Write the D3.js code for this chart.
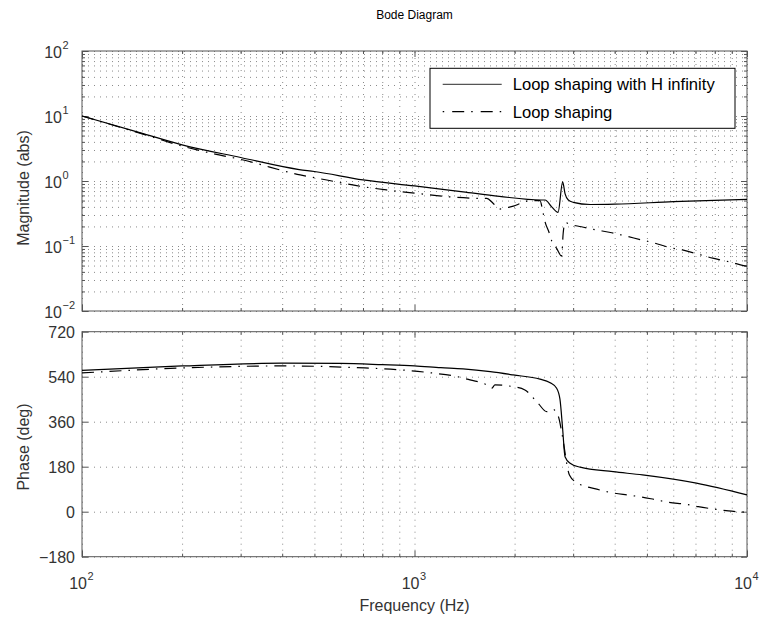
<!DOCTYPE html>
<html>
<head>
<meta charset="utf-8">
<script src="https://cdn.jsdelivr.net/npm/d3@7"></script>
<style>
    body { margin: 0; background: #fff; }
    text { font-family: "Liberation Sans", Arial, Helvetica, sans-serif; fill: #333; }
</style>
</head>
<body>
<div id="chart"></div>
<script>
// Magnitud - loop shaping con H infinito (Hz, abs)
const magFreqH = [100, 150, 200, 300, 450, 500, 700, 1000, 1400, 1800, 2400, 2470, 2586, 2702, 2790, 2836, 2901, 3003, 3375, 4000, 6000, 10000];
const magH     = [10, 5.5, 3.6, 2.3, 1.5, 1.4, 1.04, 0.84, 0.68, 0.58, 0.51, 0.51, 0.40, 0.33, 0.97, 0.64, 0.51, 0.47, 0.435, 0.44, 0.48, 0.52];

// Magnitud - loop shaping
const magFreqL = [100, 150, 200, 245, 300, 453, 545, 670, 824, 1016, 1250, 1540, 1650, 1720, 1800, 1900, 1983, 2100, 2225, 2385, 2434, 2469, 2541, 2586, 2676, 2769, 2800, 2836, 2938, 3176, 3451, 3918, 4255, 4822, 5240, 5878, 6391, 7260, 7890, 8982, 9764, 10000];
const magL     = [10, 5.4, 3.45, 2.67, 2.15, 1.24, 1.035, 0.847, 0.728, 0.646, 0.575, 0.542, 0.54, 0.46, 0.37, 0.39, 0.41, 0.46, 0.50, 0.50, 0.33, 0.237, 0.16, 0.12, 0.092, 0.070, 0.157, 0.23, 0.215, 0.198, 0.18, 0.16, 0.145, 0.124, 0.112, 0.094, 0.087, 0.073, 0.065, 0.056, 0.050, 0.049];

// Fase - loop shaping con H infinito (deg)
const phFreqH = [100, 200, 400, 600, 800, 1000, 1200, 1400, 1690, 1980, 2385, 2550, 2676, 2738, 2790, 2836, 2938, 3148, 3957, 4850, 7046, 10000];
const phH     = [565, 583, 594, 593, 588, 583, 576, 571, 560, 547, 530, 517, 494, 450, 330, 220, 194, 178, 160, 147, 114, 67];

// Fase - loop shaping
const phFreqL = [100, 200, 400, 708, 916, 1127, 1380, 1469, 1649, 1707, 1746, 1983, 2148, 2355, 2500, 2600, 2710, 2775, 2924, 3079, 3535, 3787, 4349, 4766, 5349, 5799, 6589, 7135, 8010, 8790, 10000];
const phL     = [555, 575, 583, 575, 567, 555, 537, 527, 507, 494, 507, 500, 487, 433, 400, 410, 380, 314, 147, 116, 90, 80, 67, 60, 47, 38, 29, 20, 10, 3, -2];

const xDecades = [100, 1000, 10000];
const magDecades = [-2, -1, 0, 1, 2];
const phTicks = [-180, 0, 180, 360, 540, 720];
const legendLabels = ["Loop shaping with H infinity", "Loop shaping"];

const W = 761, H = 623;
const left = 82, right = 747;
const magTop = 51, magBot = 311;
const phTop = 331.7, phBot = 556.7;
const axisColor = "#555";
const gridColor = "#8a8a8a";
const gridDash = "1,5";
const dashDot = "12,7,1.5,7";

const svg = d3.select("#chart").append("svg")
    .attr("width", W)
    .attr("height", H);

const x = d3.scaleLog().domain([100, 10000]).range([left, right]);
const yMag = d3.scaleLog().domain([1e-2, 1e2]).range([magBot, magTop]);
const yPh = d3.scaleLinear().domain([-180, 720]).range([phBot, phTop]);

const xMinor = x.ticks();
const magMinor = yMag.ticks();

const isDecade = v => Math.abs(Math.log10(v) - Math.round(Math.log10(v))) < 1e-9;

// Rejilla punteada + ticks hacia adentro
function drawPanel(y, top, bot, yTicks, yMajor) {
    const h = bot - top;
    const w = right - left;
    const g = svg.append("g");

    // grid vertical
    g.append("g")
        .attr("transform", `translate(0,${bot})`)
        .call(d3.axisBottom(x).tickValues(xMinor).tickSize(-h).tickFormat(""))
        .call(s => s.select(".domain").remove())
        .selectAll("line")
        .attr("stroke", gridColor)
        .attr("stroke-dasharray", gridDash);

    // grid horizontal
    g.append("g")
        .attr("transform", `translate(${left},0)`)
        .call(d3.axisLeft(y).tickValues(yTicks).tickSize(-w).tickFormat(""))
        .call(s => s.select(".domain").remove())
        .selectAll("line")
        .attr("stroke", gridColor)
        .attr("stroke-dasharray", gridDash);

    const xLen = v => (isDecade(v) ? 6 : 3);
    const yLen = v => (yMajor(v) ? 6 : 3);

    // ticks en los cuatro lados: [eje, transform, largo, atributo, signo]
    const sides = [
        [d3.axisBottom(x).tickValues(xMinor), `translate(0,${bot})`, xLen, "y2", -1],
        [d3.axisTop(x).tickValues(xMinor), `translate(0,${top})`, xLen, "y2", 1],
        [d3.axisLeft(y).tickValues(yTicks), `translate(${left},0)`, yLen, "x2", 1],
        [d3.axisRight(y).tickValues(yTicks), `translate(${right},0)`, yLen, "x2", -1]
    ];
    sides.forEach(([ax, t, len, attr, sign]) => {
        const a = g.append("g")
            .attr("transform", t)
            .call(ax.tickSize(0).tickFormat(""));
        a.select(".domain").remove();
        a.selectAll(".tick line")
            .attr("stroke", axisColor)
            .attr(attr, d => sign * len(d));
    });

    g.append("rect")
        .attr("x", left).attr("y", top)
        .attr("width", w).attr("height", h)
        .attr("fill", "none")
        .attr("stroke", axisColor)
        .attr("stroke-width", 1);
    return g;
}

drawPanel(yMag, magTop, magBot, magMinor, isDecade);
drawPanel(yPh, phTop, phBot, phTicks, () => true);

// Curvas
const lineMag = d3.line().x(d => x(d[0])).y(d => yMag(d[1])).curve(d3.curveMonotoneX);
const linePh = d3.line().x(d => x(d[0])).y(d => yPh(d[1])).curve(d3.curveMonotoneX);

const curves = svg.append("g").attr("fill", "none").attr("stroke", "#000").attr("stroke-width", 1.2);
curves.append("path").attr("d", lineMag(d3.zip(magFreqH, magH)));
curves.append("path").attr("d", lineMag(d3.zip(magFreqL, magL))).attr("stroke-dasharray", dashDot);
curves.append("path").attr("d", linePh(d3.zip(phFreqH, phH)));
curves.append("path").attr("d", linePh(d3.zip(phFreqL, phL))).attr("stroke-dasharray", dashDot);

// Etiquetas eje Y magnitud (10^k)
const fs = 16, fsExp = 11;
magDecades.forEach(k => {
    const yy = yMag(Math.pow(10, k));
    svg.append("text")
        .attr("x", 62).attr("y", yy + 6.5)
        .attr("text-anchor", "end")
        .style("font-size", fs + "px")
        .text("10");
    svg.append("text")
        .attr("x", 62.5).attr("y", yy - 2.5)
        .style("font-size", fsExp + "px")
        .text(k < 0 ? "\u2212" + Math.abs(k) : String(k));
});

// Etiquetas eje Y fase
phTicks.forEach(v => {
    svg.append("text")
        .attr("x", 75).attr("y", yPh(v) + 6)
        .attr("text-anchor", "end")
        .style("font-size", fs + "px")
        .text(v < 0 ? "\u2212" + Math.abs(v) : String(v));
});

// Etiquetas eje X
xDecades.forEach(v => {
    const xx = x(v);
    svg.append("text")
        .attr("x", xx + 5).attr("y", 589)
        .attr("text-anchor", "end")
        .style("font-size", fs + "px")
        .text("10");
    svg.append("text")
        .attr("x", xx + 5.5).attr("y", 579.5)
        .style("font-size", fsExp + "px")
        .text(String(Math.round(Math.log10(v))));
});

// Titulos
svg.append("text")
    .attr("x", (left + right) / 2).attr("y", 19)
    .attr("text-anchor", "middle")
    .style("font-size", "12px")
    .style("fill", "#000")
    .text("Bode Diagram");

svg.append("text")
    .attr("x", (left + right) / 2).attr("y", 611)
    .attr("text-anchor", "middle")
    .style("font-size", fs + "px")
    .text("Frequency  (Hz)");

svg.append("text")
    .attr("transform", `translate(29,188) rotate(-90)`)
    .attr("text-anchor", "middle")
    .style("font-size", fs + "px")
    .text("Magnitude (abs)");

svg.append("text")
    .attr("transform", `translate(29,447) rotate(-90)`)
    .attr("text-anchor", "middle")
    .style("font-size", fs + "px")
    .text("Phase (deg)");

// Leyenda
const leg = svg.append("g");
leg.append("rect")
    .attr("x", 430).attr("y", 68.3)
    .attr("width", 305).attr("height", 60)
    .attr("fill", "#fff")
    .attr("stroke", "#000");
legendLabels.forEach((lab, i) => {
    const yy = 84.3 + i * 27.4;
    leg.append("line")
        .attr("x1", 442.7).attr("x2", 501.7)
        .attr("y1", yy).attr("y2", yy)
        .attr("stroke", i === 0 ? "#555" : "#000")
        .attr("stroke-width", 1.2)
        .attr("stroke-dasharray", i === 0 ? null : "1.5,8,12,7");
    leg.append("text")
        .attr("x", 512.7).attr("y", yy + 6)
        .style("font-size", "16.6px")
        .style("fill", "#000")
        .text(lab);
});
</script>
</body>
</html>
